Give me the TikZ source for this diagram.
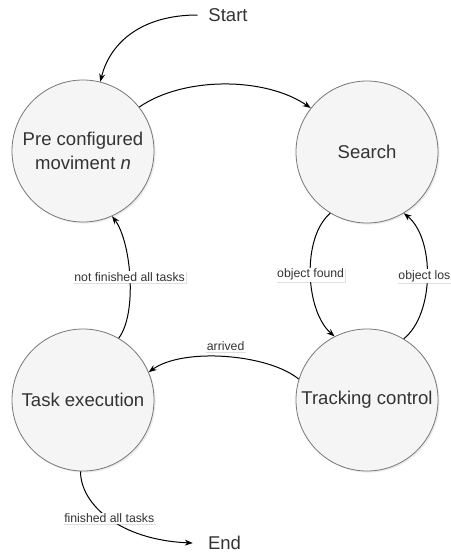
\documentclass[tikz,border=0pt]{standalone}
\usepackage{fontspec}
\setmainfont{Liberation Sans}
\usetikzlibrary{arrows.meta,shadows}
\definecolor{stategray}{HTML}{F5F5F5}
\definecolor{strokegray}{HTML}{777777}
\definecolor{textgray}{HTML}{333333}

\tikzset{
 state/.style={circle, draw=strokegray, fill=stategray, line width=0.6pt,
  minimum size=106.5pt, inner sep=0pt, text=textgray, align=center,
  font=\fontsize{13.9}{18}\selectfont,
  drop shadow={shadow xshift=1.2pt, shadow yshift=-1.2pt, opacity=0.15}},
 terminal/.style={inner ysep=0pt, inner xsep=8pt, text=textgray,
  font=\fontsize{13.9}{18}\selectfont},
 trans/.style={line width=0.75pt, -{Stealth[length=6pt,width=4.5pt,inset=2pt]}},
 edgelabel/.style={fill=white, inner sep=1pt, text=textgray,
  font=\fontsize{9.2}{11}\selectfont,
  drop shadow={shadow xshift=0.6pt, shadow yshift=-0.6pt, opacity=0.25}}
}

\begin{document}
\begin{tikzpicture}[x=0.75pt,y=0.75pt,yscale=-1,xscale=1]
 \useasboundingbox (0,0) rectangle (450,553);

 % states
 \node[state] (pre) at (83,151) {Pre configured\\moviment \textit{n}};
 \node[state] (search) at (367,152) {Search};
 \node[state] (task) at (83,400) {Task execution};
 \node[state] (track) at (367,400) {Tracking control};

 % start and end
 \node[terminal] (start) at (228,15) {Start};
 \node[terminal, inner xsep=11.25pt] (end) at (224.5,543) {End};

 % transitions
 \draw[trans] (start.west) .. controls +(-55,0) and +(10,-40) .. (pre.76);
 \draw[trans] (pre.38) .. controls +(45,-31) and +(-45,-31) .. (search.142);
 \draw[trans] (search.239) .. controls +(-29,25) and +(-29,-25) .. (track.117)
  node[edgelabel, pos=0.5] {object found};
 \draw[trans] (track.59) .. controls +(31,-25) and +(31,25) .. (search.301)
  node[edgelabel, pos=0.5, xshift=-2pt] {object los};
 \draw[trans] (track.163) .. controls +(-30,-25) and +(35,-25) .. (task.23)
  node[pos=0.5, above=3pt, edgelabel] {arrived};
 \draw[trans] (task.60) .. controls +(19,-25) and +(19,25) .. (pre.294)
  node[edgelabel, pos=0.5] {not finished all tasks};
 \draw[trans] (task.268) .. controls +(0,33) and +(-73,-3) .. (end.west)
  node[edgelabel, pos=0.5] {finished all tasks};
\end{tikzpicture}
\end{document}
